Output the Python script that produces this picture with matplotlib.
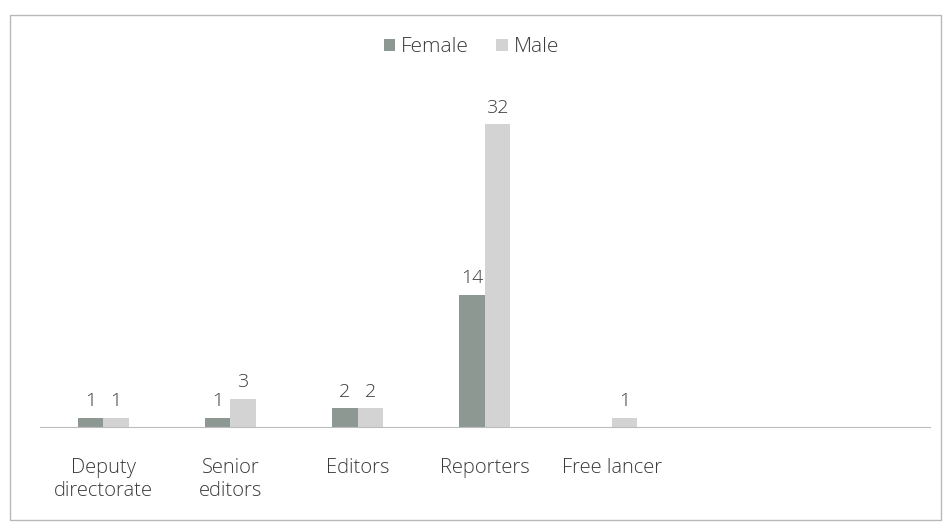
import numpy as np
import matplotlib.pyplot as plt
from matplotlib.patches import Rectangle

plt.rcParams['font.family'] = ['Open Sans', 'DejaVu Sans']

categories = ['Deputy\ndirectorate', 'Senior\neditors', 'Editors', 'Reporters', 'Free lancer', '', '']
female = [1, 1, 2, 14, 0, None, None]
male = [1, 3, 2, 32, 1, None, None]

fig = plt.figure(figsize=(9.43, 5.26), dpi=100)
fig.patches.append(Rectangle((0.011, 0.012), 0.987, 0.96, transform=fig.transFigure,
                             fill=False, edgecolor='#b8b8b8', linewidth=1.0))
ax = fig.add_axes([0.042, 0.188, 0.944, 0.70])

x = np.arange(len(categories))
w = 0.2
fv = [v if v is not None else 0 for v in female]
mv = [v if v is not None else 0 for v in male]
bf = ax.bar(x - w / 2, fv, w, color='#8d9893', label='Female')
bm = ax.bar(x + w / 2, mv, w, color='#d3d3d3', label='Male')

for i in range(len(categories)):
    if female[i]:
        ax.text(x[i] - w / 2, female[i] + 0.8, str(female[i]), ha='center', va='bottom',
                fontsize=14, fontweight='light', color='#3a3a3a')
    if male[i]:
        ax.text(x[i] + w / 2, male[i] + 0.8, str(male[i]), ha='center', va='bottom',
                fontsize=14, fontweight='light', color='#3a3a3a')

ax.set_xlim(-0.5, len(categories) - 0.5)
ax.set_ylim(0, 38.9)
ax.set_xticks(x)
ax.set_xticklabels(categories, fontsize=14.5, fontweight='light', color='#3a3a3a', linespacing=1.2)
ax.tick_params(axis='x', length=0, pad=22)
ax.set_yticks([])
for s in ['top', 'right', 'left']:
    ax.spines[s].set_visible(False)
ax.spines['bottom'].set_color('#bdbdbd')

fig.legend(handles=[bf, bm], labels=['Female', 'Male'], loc='center', bbox_to_anchor=(0.5, 0.91),
           ncol=2, frameon=False, prop={'size': 15, 'weight': 'light'}, handlelength=0.55,
           handleheight=0.55, handletextpad=0.3, columnspacing=1.3, labelcolor='#3a3a3a')

fig.savefig('out.png', dpi=100)
